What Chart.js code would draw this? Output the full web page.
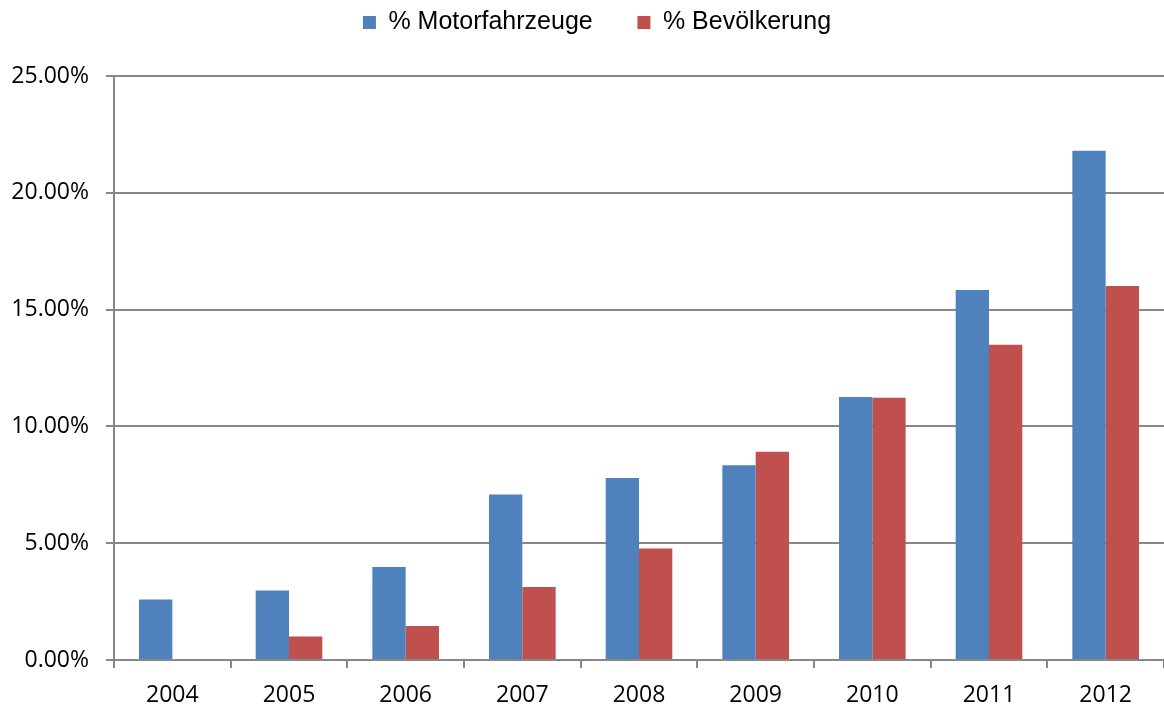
<!DOCTYPE html>
<html><head><meta charset="utf-8">
<script src="https://cdn.jsdelivr.net/npm/chart.js@4/dist/chart.umd.min.js"></script>
<style>html,body{margin:0;padding:0;background:#fff}#wrap{width:1164px;height:707px}</style>
</head><body><div id="wrap"><canvas id="c" width="1164" height="707"></canvas></div>
<script>
const categories = ['2004', '2005', '2006', '2007', '2008', '2009', '2010', '2011', '2012'];
const motorfahrzeuge = [2.59, 2.97, 3.98, 7.09, 7.79, 8.34, 11.26, 15.84, 21.80];
const bevoelkerung = [0, 1.01, 1.46, 3.13, 4.77, 8.92, 11.23, 13.49, 16.01];
const seriesNames = ['% Motorfahrzeuge', '% Bevölkerung'];
const yTickValues = [0, 5, 10, 15, 20, 25];

const gridColor = '#878787';

const legendSpacer = {
  id: 'legendSpacer',
  beforeInit(chart) {
    const lg = chart.legend;
    if (!lg) return;
    const fit = lg.fit;
    lg.fit = function () { fit.call(this); this.height = 76; };
  },
  afterLayout(chart) {
    if (chart.legend) chart.legend.left = 30;
  }
};

new Chart(document.getElementById('c'), {
  type: 'bar',
  data: {
    labels: categories,
    datasets: [
      { label: seriesNames[0], data: motorfahrzeuge, backgroundColor: '#4F81BD', borderWidth: 0 },
      { label: seriesNames[1], data: bevoelkerung, backgroundColor: '#C0504D', borderWidth: 0 }
    ]
  },
  options: {
    responsive: false,
    animation: false,
    layout: { padding: { left: 0, top: 0, right: 0, bottom: 0 } },
    datasets: { bar: { categoryPercentage: 0.571, barPercentage: 1.0 } },
    plugins: {
      tooltip: { enabled: false },
      legend: {
        position: 'top',
        labels: {
          boxWidth: 13, boxHeight: 13, padding: 10, color: '#000',
          font: { family: '"Liberation Sans", Arial, sans-serif', size: 25 },
          generateLabels(chart) {
            const items = Chart.defaults.plugins.legend.labels.generateLabels(chart);
            items.forEach((it, i) => { it.lineWidth = 0; if (i < items.length - 1) it.text = it.text + '     '; });
            return items;
          }
        }
      }
    },
    scales: {
      x: {
        offset: true,
        grid: { display: true, drawOnChartArea: false, drawTicks: true, tickLength: 8, color: gridColor, lineWidth: 2 },
        border: { display: true, color: gridColor, width: 2 },
        ticks: { color: '#000', padding: 14, font: { family: '"Open Sans", sans-serif', size: 23 } },
        afterFit(s) { s.height = 47; }
      },
      y: {
        min: 0, max: 25,
        afterBuildTicks(s) { s.ticks = yTickValues.map(v => ({ value: v })); },
        grid: { color: gridColor, lineWidth: 2, drawTicks: true, tickLength: 8 },
        border: { display: true, color: gridColor, width: 2 },
        ticks: {
          color: '#000', padding: 17,
          font: { family: '"Open Sans", sans-serif', size: 23 },
          callback: v => Number(v).toFixed(2) + '%'
        },
        afterFit(s) { s.width = 114; }
      }
    }
  },
  plugins: [legendSpacer]
});
</script>
</body></html>
